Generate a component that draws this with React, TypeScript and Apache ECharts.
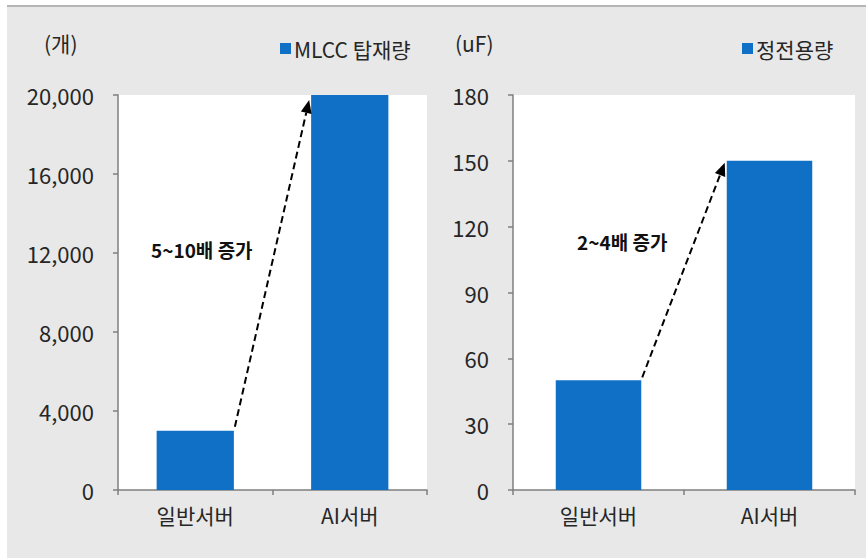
import React, { useEffect, useRef } from "react";
import * as echarts from "echarts";

// Categories and values for both panels
const categories = ["일반서버", "AI서버"];
const mlccCount = [3000, 20000]; // MLCC 탑재량 (개)
const capacitance = [50, 150]; // 정전용량 (uF)

const countAxis = { max: 20000, interval: 4000 };
const capAxis = { max: 180, interval: 30 };

const FONT = "'Noto Sans CJK KR', 'Noto Sans', sans-serif";
const BAR = "#1070c6";
const AXIS = "#7f7f7f";
const TEXT = "#262626";

function arrow(x1: number, y1: number, x2: number, y2: number) {
  const dx = x2 - x1;
  const dy = y2 - y1;
  const len = Math.sqrt(dx * dx + dy * dy);
  const ux = dx / len;
  const uy = dy / len;
  const headLen = 13;
  const headHalf = 5.5;
  const bx = x2 - ux * headLen;
  const by = y2 - uy * headLen;
  const px = -uy;
  const py = ux;
  return [
    {
      type: "line",
      z: 100,
      shape: { x1, y1, x2: bx, y2: by },
      style: { stroke: "#000", lineWidth: 2, lineDash: [7, 4] },
    },
    {
      type: "polygon",
      z: 100,
      shape: {
        points: [
          [x2, y2],
          [bx + px * headHalf, by + py * headHalf],
          [bx - px * headHalf, by - py * headHalf],
        ],
      },
      style: { fill: "#000" },
    },
  ];
}

export default function App() {
  const ref = useRef<HTMLDivElement>(null);

  useEffect(() => {
    if (!ref.current) return;
    const chart = echarts.init(ref.current, null, { renderer: "svg" });

    const valueAxis = (gridIndex: number, cfg: { max: number; interval: number }) => ({
      type: "value",
      gridIndex,
      min: 0,
      max: cfg.max,
      interval: cfg.interval,
      splitLine: { show: false },
      axisLine: { show: true, lineStyle: { color: AXIS, width: 1.5 } },
      axisTick: { show: true, length: 5, lineStyle: { color: AXIS, width: 1.5 } },
      axisLabel: {
        margin: 24,
        color: TEXT,
        fontFamily: FONT,
        fontSize: 22,
        formatter: (v: number) => v.toLocaleString("en-US"),
      },
    });

    const catAxis = (gridIndex: number) => ({
      type: "category",
      gridIndex,
      data: categories,
      axisLine: { show: true, lineStyle: { color: AXIS, width: 1.5 } },
      axisTick: { show: true, length: 5, lineStyle: { color: AXIS, width: 1.5 } },
      axisLabel: { margin: 14, color: TEXT, fontFamily: FONT, fontSize: 21 },
    });

    const baseGraphics: any[] = [
      {
        type: "text",
        left: 44,
        top: 32,
        style: { text: "(개)", fill: TEXT, font: `21px ${FONT}` },
      },
      {
        type: "text",
        left: 455,
        top: 32,
        style: { text: "(uF)", fill: TEXT, font: `21px ${FONT}` },
      },
      {
        type: "text",
        left: 151,
        top: 240,
        z: 100,
        style: { text: "5~10배 증가", fill: "#111", font: `bold 19px ${FONT}` },
      },
      {
        type: "text",
        left: 577,
        top: 232,
        z: 100,
        style: { text: "2~4배 증가", fill: "#111", font: `bold 19px ${FONT}` },
      },
    ];

    const legendText = { color: TEXT, fontFamily: FONT, fontSize: 21, padding: [0, 0, 0, -2] };

    const option: any = {
      animation: false,
      backgroundColor: "transparent",
      grid: [
        { left: 118, right: 439, top: 95, bottom: 68, show: true, backgroundColor: "#fff", borderWidth: 0 },
        { left: 513, right: 11, top: 95, bottom: 68, show: true, backgroundColor: "#fff", borderWidth: 0 },
      ],
      legend: [
        {
          data: ["MLCC 탑재량"],
          left: 275,
          top: 33,
          icon: "rect",
          itemWidth: 11,
          itemHeight: 11,
          textStyle: legendText,
        },
        {
          data: ["정전용량"],
          left: 737,
          top: 33,
          icon: "rect",
          itemWidth: 11,
          itemHeight: 11,
          textStyle: legendText,
        },
      ],
      xAxis: [catAxis(0), catAxis(1)],
      yAxis: [valueAxis(0, countAxis), valueAxis(1, capAxis)],
      series: [
        {
          name: "MLCC 탑재량",
          type: "bar",
          xAxisIndex: 0,
          yAxisIndex: 0,
          barWidth: "50%",
          data: mlccCount,
          itemStyle: { color: BAR },
        },
        {
          name: "정전용량",
          type: "bar",
          xAxisIndex: 1,
          yAxisIndex: 1,
          barWidth: "50%",
          data: capacitance,
          itemStyle: { color: BAR },
        },
      ],
      graphic: baseGraphics,
    };

    chart.setOption(option);

    // Growth arrows from the top-right corner of the first bar to the second bar's top-left
    const arrowFor = (idx: number, values: number[], startLift: number, endDrop: number) => {
      const f = { xAxisIndex: idx, yAxisIndex: idx };
      const a = chart.convertToPixel(f, [0, values[0]]) as number[];
      const b = chart.convertToPixel(f, [1, values[1]]) as number[];
      const half = (b[0] - a[0]) * 0.25;
      return arrow(a[0] + half + 1, a[1] - startLift, b[0] - half - 2, b[1] + endDrop);
    };

    chart.setOption({
      graphic: [
        ...baseGraphics,
        ...arrowFor(0, mlccCount, 4, 5),
        ...arrowFor(1, capacitance, 3, 2),
      ],
    });

    return () => chart.dispose();
  }, []);

  return (
    <div style={{ position: "fixed", left: 0, top: 0, width: 866, height: 558, background: "#fff" }}>
      <div
        style={{
          position: "absolute",
          left: 7,
          top: 5,
          right: 0,
          bottom: 0,
          background: "#e8e8e8",
          borderTop: "2px solid #b5b5b5",
        }}
      />
      <div ref={ref} style={{ position: "absolute", left: 0, top: 0, width: 866, height: 558 }} />
    </div>
  );
}
